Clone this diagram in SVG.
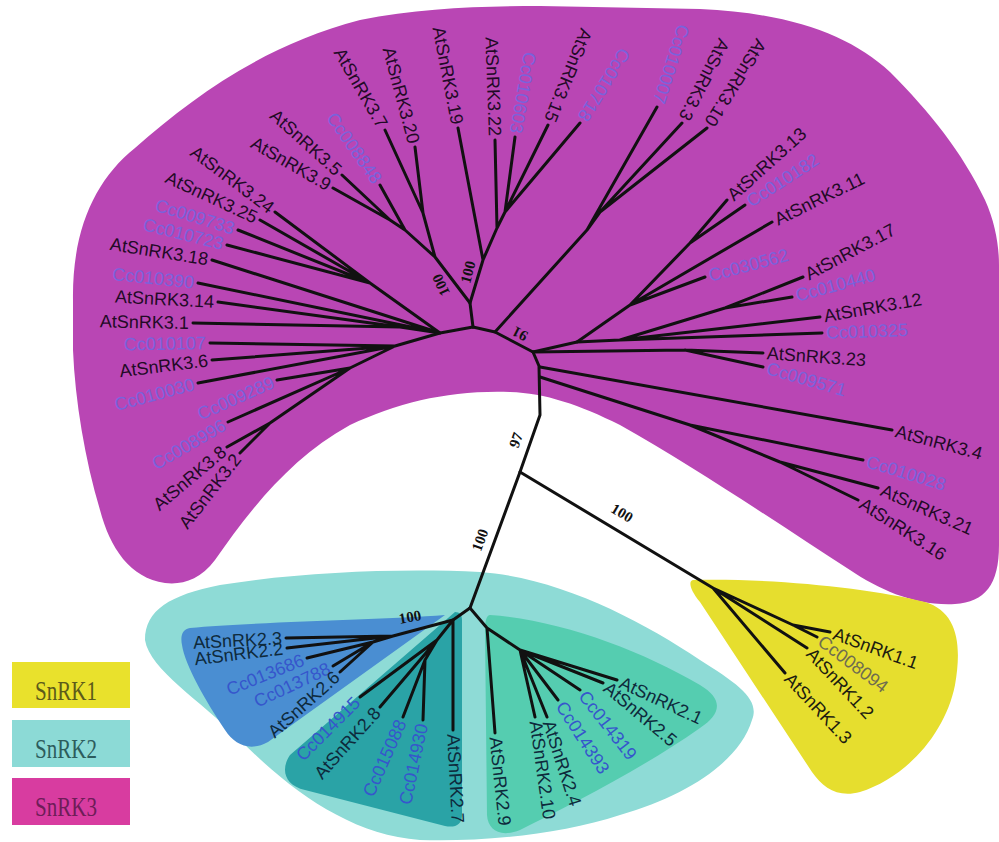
<svg xmlns="http://www.w3.org/2000/svg" width="999" height="842" viewBox="0 0 999 842">
<style>
.lab{font-family:"Liberation Sans",Arial,sans-serif;font-size:18px}
.e{text-anchor:end}
.a3{fill:#220a26}.c3{fill:#7a62dc}
.a2{fill:#0e2a3c}.c2{fill:#3656cc}
.a1{fill:#1c1c10}.c1{fill:#6e6c50}
.bs{font-family:"Liberation Serif","Times New Roman",serif;font-size:15px;font-weight:bold;fill:#111;text-anchor:middle}
.br{fill:none;stroke:#111;stroke-width:3;stroke-linecap:round;stroke-linejoin:round}
.lg{font-family:"Liberation Serif","Times New Roman",serif;font-size:27px}
</style>
<rect width="999" height="842" fill="#fff"/>
<g id="clade-SnRK3">
<path fill="#b946b4" d="M73,300 C72,230 95,180 135,148 C195,95 265,45 360,20 C420,8 480,6 540,6 L700,9 C790,13 850,35 890,72 C930,112 962,152 985,200 C995,222 999,245 999,265 L999,545 C999,585 985,602 955,604 C915,606 880,590 850,570 C780,525 700,470 620,425 C580,405 545,393 510,392 C450,390 400,402 350,425 C290,458 250,510 215,560 C200,580 182,585 165,583 C130,578 110,548 100,510 C85,460 75,400 73,350 Z"/>
</g>
<g id="clade-SnRK2">
<path fill="#8edbd6" d="M145,640 C145,610 170,595 220,585 C300,572 400,568 480,572 C560,578 640,620 700,660 C740,685 760,700 752,720 C740,760 690,795 620,815 C560,835 480,842 420,840 C350,835 290,790 240,740 C200,700 150,670 145,640 Z"/>
<path fill="#4a8ed2" d="M190,628 C250,622 380,620 445,615 L268,742 C250,752 235,745 225,730 C205,700 185,665 182,645 C180,635 183,629 190,628 Z"/>
<path fill="#2aa3a6" d="M455,612 C460,612 462,615 462,620 L462,815 C462,825 455,828 445,826 L305,790 C285,785 280,770 290,755 Z"/>
<path fill="#55cdb0" d="M490,615 C560,620 640,650 700,685 C725,700 720,715 700,728 C640,770 570,805 520,830 C500,838 488,830 487,815 L485,630 C485,620 487,615 490,615 Z"/>
</g>
<g id="clade-SnRK1">
<path fill="#e6de2e" d="M693,580 C770,578 870,588 925,602 C958,612 962,645 955,685 C945,735 905,778 860,792 C838,798 823,788 812,772 L700,602 C690,590 688,581 693,580 Z"/>
</g>
<g id="connectors" class="br">
<path d="M470,608 L520,472 L540,415 L539,366 L533,352 L495,332 L473,327"/>
<path d="M540,367 L892,430 M540,377 L690,425 L863,460 M690,425 L780,462 L878,488 M780,462 L858,500"/>
<path d="M533,352 L685,350 L763,353 M685,350 L763,367"/>
<path d="M533,352 L577,342 L620,340 L820,317 M620,340 L822,333 M620,340 L725,308 L803,277 M725,308 L792,297"/>
<path d="M577,342 L630,305 L690,243 L727,200 M690,243 L745,205 M630,305 L772,222 M630,305 L705,277"/>
<path d="M495,332 L587,230 L657,107 M587,230 L600,212 L682,123 M600,212 L707,128"/>
<path d="M473,327 L470,303 L483,260 L458,128 M483,260 L497,228 L495,140 M497,228 L505,212 L515,137 M505,212 L548,125 M505,212 L580,123"/>
<path d="M470,303 L435,257 L423,213 L385,130 M423,213 L415,147 M435,257 L405,230 L380,185 M405,230 L390,220 L342,175 M390,220 L333,188"/>
<path d="M473,327 L440,333 L370,283 L275,212 M370,283 L260,220 M370,283 L238,230 M370,283 L227,245 M440,333 L212,260 M440,333 L198,283 M440,333 L400,327 L218,302 M400,327 L193,323"/>
<path d="M440,333 L395,346 L210,343 M395,346 L212,360 M395,346 L198,383 M395,346 L350,368 L277,380 M350,368 L228,422 M350,368 L270,423 L227,447 M270,423 L240,453"/>
<path d="M520,472 L713,588 L785,673 M713,588 L807,648 M713,588 L793,625 L830,632 M793,625 L817,637"/>
<path d="M470,608 L453,620 L393,636 L286,638 M393,636 L287,648 M393,636 L373,642 L307,658 M373,642 L333,666 M373,642 L340,672"/>
<path d="M453,620 L437,640 L360,697 M437,640 L380,707 M437,640 L425,660 L403,717 M425,660 L423,720 M453,620 L453,730"/>
<path d="M470,608 L487,628 L495,733 M487,628 L520,650 L535,717 M520,650 L547,717 M520,650 L558,700 M520,650 L580,690 M520,650 L603,683 M520,650 L617,680"/>
</g>
<g id="bootstrap">
<text class="bs" transform="translate(441,285) rotate(-115)" dy="5">100</text>
<text class="bs" transform="translate(468,272) rotate(-75)" dy="5">100</text>
<text class="bs" transform="translate(520,334) rotate(208)" dy="5">91</text>
<text class="bs" transform="translate(516,440) rotate(-71)" dy="5">97</text>
<text class="bs" transform="translate(480,540) rotate(-70)" dy="5">100</text>
<text class="bs" transform="translate(622,513) rotate(31)" dy="5">100</text>
<text class="bs" transform="translate(410,617) rotate(-10)" dy="5">100</text>
</g>
<g id="leaves-SnRK3">
<g id="n-AtSnRK3-24"><text class="lab a3 e" transform="translate(275,212) rotate(37)" x="-4" dy="6">AtSnRK3.24</text></g>
<g id="n-AtSnRK3-25"><text class="lab a3 e" transform="translate(260,220) rotate(25)" x="-4" dy="6">AtSnRK3.25</text></g>
<g id="n-Cc009733"><text class="lab c3 e" transform="translate(238,230) rotate(17)" x="-4" dy="6">Cc009733</text></g>
<g id="n-Cc010723"><text class="lab c3 e" transform="translate(227,245) rotate(14)" x="-4" dy="6">Cc010723</text></g>
<g id="n-AtSnRK3-18"><text class="lab a3 e" transform="translate(212,260) rotate(9)" x="-4" dy="6">AtSnRK3.18</text></g>
<g id="n-Cc010390"><text class="lab c3 e" transform="translate(198,283) rotate(6)" x="-4" dy="6">Cc010390</text></g>
<g id="n-AtSnRK3-14"><text class="lab a3 e" transform="translate(218,302) rotate(3)" x="-4" dy="6">AtSnRK3.14</text></g>
<g id="n-AtSnRK3-1"><text class="lab a3 e" transform="translate(193,323) rotate(1)" x="-4" dy="6">AtSnRK3.1</text></g>
<g id="n-Cc010107"><text class="lab c3 e" transform="translate(210,343) rotate(-1)" x="-4" dy="6">Cc010107</text></g>
<g id="n-AtSnRK3-6"><text class="lab a3 e" transform="translate(212,360) rotate(-7)" x="-4" dy="6">AtSnRK3.6</text></g>
<g id="n-Cc010030"><text class="lab c3 e" transform="translate(198,383) rotate(-15)" x="-4" dy="6">Cc010030</text></g>
<g id="n-Cc009289"><text class="lab c3 e" transform="translate(277,380) rotate(-24)" x="-4" dy="6">Cc009289</text></g>
<g id="n-Cc008996"><text class="lab c3 e" transform="translate(228,422) rotate(-30)" x="-4" dy="6">Cc008996</text></g>
<g id="n-AtSnRK3-8"><text class="lab a3 e" transform="translate(227,447) rotate(-40)" x="-4" dy="6">AtSnRK3.8</text></g>
<g id="n-AtSnRK3-2"><text class="lab a3 e" transform="translate(240,453) rotate(-52)" x="-4" dy="6">AtSnRK3.2</text></g>
<g id="n-AtSnRK3-9"><text class="lab a3 e" transform="translate(333,188) rotate(30)" x="-4" dy="6">AtSnRK3.9</text></g>
<g id="n-AtSnRK3-5"><text class="lab a3 e" transform="translate(342,175) rotate(42)" x="-4" dy="6">AtSnRK3.5</text></g>
<g id="n-Cc008848"><text class="lab c3 e" transform="translate(380,185) rotate(55)" x="-4" dy="6">Cc008848</text></g>
<g id="n-AtSnRK3-7"><text class="lab a3 e" transform="translate(385,130) rotate(60)" x="-4" dy="6">AtSnRK3.7</text></g>
<g id="n-AtSnRK3-20"><text class="lab a3 e" transform="translate(415,147) rotate(75)" x="-4" dy="6">AtSnRK3.20</text></g>
<g id="n-AtSnRK3-19"><text class="lab a3 e" transform="translate(458,128) rotate(79)" x="-4" dy="6">AtSnRK3.19</text></g>
<g id="n-AtSnRK3-22"><text class="lab a3 e" transform="translate(495,140) rotate(88)" x="-4" dy="6">AtSnRK3.22</text></g>
<g id="n-Cc010603"><text class="lab c3 e" transform="translate(515,137) rotate(100)" x="-4" dy="6">Cc010603</text></g>
<g id="n-AtSnRK3-15"><text class="lab a3 e" transform="translate(548,125) rotate(112)" x="-4" dy="6">AtSnRK3.15</text></g>
<g id="n-Cc010718"><text class="lab c3 e" transform="translate(580,123) rotate(122)" x="-4" dy="6">Cc010718</text></g>
<g id="n-Cc010007"><text class="lab c3 e" transform="translate(657,107) rotate(108)" x="-4" dy="6">Cc010007</text></g>
<g id="n-AtSnRK3-3"><text class="lab a3 e" transform="translate(682,123) rotate(117)" x="-4" dy="6">AtSnRK3.3</text></g>
<g id="n-AtSnRK3-10"><text class="lab a3 e" transform="translate(707,128) rotate(122)" x="-4" dy="6">AtSnRK3.10</text></g>
<g id="n-AtSnRK3-13"><text class="lab a3" transform="translate(727,200) rotate(-42)" x="4" dy="6">AtSnRK3.13</text></g>
<g id="n-Cc010182"><text class="lab c3" transform="translate(745,205) rotate(-33)" x="4" dy="6">Cc010182</text></g>
<g id="n-AtSnRK3-11"><text class="lab a3" transform="translate(772,222) rotate(-26)" x="4" dy="6">AtSnRK3.11</text></g>
<g id="n-Cc030562"><text class="lab c3" transform="translate(705,277) rotate(-15)" x="4" dy="6">Cc030562</text></g>
<g id="n-AtSnRK3-17"><text class="lab a3" transform="translate(803,277) rotate(-28)" x="4" dy="6">AtSnRK3.17</text></g>
<g id="n-Cc010440"><text class="lab c3" transform="translate(792,297) rotate(-15)" x="4" dy="6">Cc010440</text></g>
<g id="n-AtSnRK3-12"><text class="lab a3" transform="translate(820,317) rotate(-10)" x="4" dy="6">AtSnRK3.12</text></g>
<g id="n-Cc010325"><text class="lab c3" transform="translate(822,333) rotate(-2)" x="4" dy="6">Cc010325</text></g>
<g id="n-AtSnRK3-23"><text class="lab a3" transform="translate(763,353) rotate(4)" x="4" dy="6">AtSnRK3.23</text></g>
<g id="n-Cc009571"><text class="lab c3" transform="translate(763,367) rotate(16)" x="4" dy="6">Cc009571</text></g>
<g id="n-AtSnRK3-4"><text class="lab a3" transform="translate(892,430) rotate(15)" x="4" dy="6">AtSnRK3.4</text></g>
<g id="n-Cc010028"><text class="lab c3" transform="translate(863,460) rotate(17)" x="4" dy="6">Cc010028</text></g>
<g id="n-AtSnRK3-21"><text class="lab a3" transform="translate(878,488) rotate(24)" x="4" dy="6">AtSnRK3.21</text></g>
<g id="n-AtSnRK3-16"><text class="lab a3" transform="translate(858,500) rotate(33)" x="4" dy="6">AtSnRK3.16</text></g>
</g>
<g id="leaves-SnRK1">
<g id="n-AtSnRK1-1"><text class="lab a1" transform="translate(830,632) rotate(20)" x="4" dy="6">AtSnRK1.1</text></g>
<g id="n-Cc008094"><text class="lab c1" transform="translate(817,637) rotate(37)" x="4" dy="6">Cc008094</text></g>
<g id="n-AtSnRK1-2"><text class="lab a1" transform="translate(807,648) rotate(47)" x="4" dy="6">AtSnRK1.2</text></g>
<g id="n-AtSnRK1-3"><text class="lab a1" transform="translate(785,673) rotate(47)" x="4" dy="6">AtSnRK1.3</text></g>
</g>
<g id="leaves-SnRK2">
<g id="n-AtSnRK2-3"><text class="lab a2 e" transform="translate(286,638) rotate(-3)" x="-4" dy="6">AtSnRK2.3</text></g>
<g id="n-AtSnRK2-2"><text class="lab a2 e" transform="translate(287,648) rotate(-7)" x="-4" dy="6">AtSnRK2.2</text></g>
<g id="n-Cc013686"><text class="lab c2 e" transform="translate(307,658) rotate(-22)" x="-4" dy="6">Cc013686</text></g>
<g id="n-Cc013788"><text class="lab c2 e" transform="translate(333,666) rotate(-25)" x="-4" dy="6">Cc013788</text></g>
<g id="n-AtSnRK2-6"><text class="lab a2 e" transform="translate(340,672) rotate(-42)" x="-4" dy="6">AtSnRK2.6</text></g>
<g id="n-Cc014915"><text class="lab c2 e" transform="translate(360,697) rotate(-45)" x="-4" dy="6">Cc014915</text></g>
<g id="n-AtSnRK2-8"><text class="lab a2 e" transform="translate(380,707) rotate(-48)" x="-4" dy="6">AtSnRK2.8</text></g>
<g id="n-Cc015088"><text class="lab c2 e" transform="translate(403,717) rotate(-66)" x="-4" dy="6">Cc015088</text></g>
<g id="n-Cc014930"><text class="lab c2 e" transform="translate(423,720) rotate(-78)" x="-4" dy="6">Cc014930</text></g>
<g id="n-AtSnRK2-7"><text class="lab a2" transform="translate(453,730) rotate(87)" x="4" dy="6">AtSnRK2.7</text></g>
<g id="n-AtSnRK2-9"><text class="lab a2" transform="translate(495,733) rotate(84)" x="4" dy="6">AtSnRK2.9</text></g>
<g id="n-AtSnRK2-10"><text class="lab a2" transform="translate(535,717) rotate(82)" x="4" dy="6">AtSnRK2.10</text></g>
<g id="n-AtSnRK2-4"><text class="lab a2" transform="translate(547,717) rotate(72)" x="4" dy="6">AtSnRK2.4</text></g>
<g id="n-Cc014393"><text class="lab c2" transform="translate(558,700) rotate(57)" x="4" dy="6">Cc014393</text></g>
<g id="n-Cc014319"><text class="lab c2" transform="translate(580,690) rotate(52)" x="4" dy="6">Cc014319</text></g>
<g id="n-AtSnRK2-5"><text class="lab a2" transform="translate(603,683) rotate(40)" x="4" dy="6">AtSnRK2.5</text></g>
<g id="n-AtSnRK2-1"><text class="lab a2" transform="translate(617,680) rotate(25)" x="4" dy="6">AtSnRK2.1</text></g>
</g>
<g id="legend">
<g id="legend-SnRK1"><rect x="12" y="662" width="118" height="46" fill="#e9e12c"/><text class="lg" x="35" y="700" fill="#5c5a1a" textLength="62" lengthAdjust="spacingAndGlyphs">SnRK1</text></g>
<g id="legend-SnRK2"><rect x="12" y="720" width="118" height="47" fill="#8cdad6"/><text class="lg" x="35" y="758" fill="#2d5c5c" textLength="62" lengthAdjust="spacingAndGlyphs">SnRK2</text></g>
<g id="legend-SnRK3"><rect x="12" y="778" width="118" height="47" fill="#d83ca0"/><text class="lg" x="35" y="816" fill="#6e1d58" textLength="62" lengthAdjust="spacingAndGlyphs">SnRK3</text></g>
</g>
</svg>
